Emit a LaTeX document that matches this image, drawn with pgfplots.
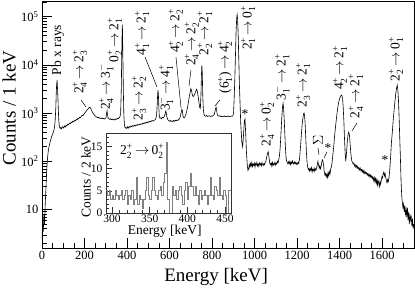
\documentclass[border=0pt]{standalone}
\usepackage{fontspec}
\setmainfont{Liberation Serif}
\usepackage{amsmath}
\usepackage{pgfplots}
\pgfplotsset{compat=1.18}
\newcommand{\lv}[3]{#1$_{\text{#2}}^{\text{#3}}$}
\newcommand{\tr}[6]{\lv{#1}{#2}{#3}\,$\rightarrow$\,\lv{#4}{#5}{#6}}
\newcommand{\annfont}{\fontsize{13.5}{15}\selectfont}

\pgfplotstableread{
E C
0 2.5
3 5
6 3.5
9 8
12 5
15 12
18 25
21 50
24 90
27 130
30 170
34 210
38 250
42 290
46 330
50 370
54 410
58 480
62 700
65 1300
67 2600
69 4000
71 4800
73 3200
75 2000
77 1100
79 700
82 520
85 480
88 500
91 470
94 510
97 520
101 490
105 540
109 510
113 560
117 540
121 590
125 570
129 620
133 600
137 650
141 630
145 680
149 660
153 700
157 690
161 740
165 720
169 780
173 760
177 820
181 800
185 860
189 900
193 880
197 950
201 1000
205 1050
209 1100
213 1180
217 1220
221 1290
225 1330
229 1250
233 1150
237 1050
241 980
245 930
249 880
253 850
257 830
261 800
265 820
269 780
273 800
277 770
281 790
285 760
289 780
293 750
297 770
301 800
304 1000
306 1120
308 950
311 780
315 760
319 740
323 760
327 730
331 750
335 720
339 740
343 720
347 760
351 740
355 780
359 770
363 800
367 850
370 1000
373 3000
375 15000
377 50000
378 68000
379 45000
381 10000
383 2500
385 900
388 560
391 490
395 500
399 480
403 520
407 490
411 530
415 510
419 540
423 520
427 550
431 530
435 560
439 540
443 570
447 555
451 580
455 565
459 590
463 575
467 600
471 590
475 620
479 600
483 630
487 615
491 650
495 630
499 660
503 645
507 680
511 660
515 690
519 700
523 680
527 710
531 720
535 760
539 900
542 1500
544 2400
546 3000
548 2200
550 1200
552 850
555 780
559 800
563 760
567 820
571 800
575 850
579 950
582 1100
584 1050
587 850
591 740
595 700
599 680
603 700
607 670
611 690
615 660
619 700
623 680
627 710
631 690
635 720
639 700
643 740
647 760
651 850
655 1050
658 1200
660 1150
662 950
665 820
669 800
673 850
677 950
681 1100
685 1350
689 1700
693 2200
697 2700
700 3200
703 3000
707 2400
711 2200
715 2300
719 2500
723 2800
727 3100
730 2900
734 2300
738 1700
742 1300
745 1250
748 2500
750 6000
752 9800
754 7000
756 2500
759 1200
762 950
766 880
770 860
774 890
778 850
782 870
786 860
790 880
794 850
798 870
802 860
806 900
810 930
814 1100
817 1250
819 1320
821 1200
823 1000
826 900
830 870
834 880
838 850
842 870
846 840
850 860
854 850
858 870
862 840
866 860
870 850
874 870
878 845
882 860
886 850
890 870
894 860
898 880
901 1000
904 2000
907 5000
910 15000
913 50000
916 95000
918 110000
920 90000
923 40000
926 12000
929 3500
935 600
940 250
944 200
948 350
952 700
955 750
958 400
962 150
966 80
969 65
972 70
975 85
978 75
981 90
984 80
987 95
990 78
993 88
996 82
999 92
1002 76
1005 90
1008 84
1011 95
1014 80
1017 88
1020 78
1023 92
1026 85
1029 90
1032 80
1035 94
1038 86
1041 82
1044 90
1047 85
1050 95
1053 100
1056 115
1059 135
1062 150
1064 158
1066 140
1069 110
1072 90
1075 85
1078 92
1081 80
1084 95
1087 82
1090 90
1093 86
1096 96
1099 84
1102 92
1105 88
1108 100
1111 94
1114 110
1117 130
1120 180
1123 300
1126 550
1129 950
1132 1400
1134 1600
1136 1350
1139 800
1142 400
1145 200
1148 120
1151 100
1154 95
1157 88
1160 98
1163 90
1166 100
1169 86
1172 96
1175 90
1178 102
1181 92
1184 88
1187 98
1190 90
1193 95
1196 86
1199 92
1202 88
1205 96
1208 90
1211 110
1214 150
1217 230
1220 350
1223 520
1226 700
1229 880
1231 980
1233 1000
1235 900
1238 600
1241 300
1244 150
1247 95
1250 75
1253 68
1256 72
1259 62
1262 70
1265 65
1268 74
1271 60
1274 68
1277 64
1280 72
1283 62
1286 70
1289 66
1292 74
1295 85
1298 100
1301 85
1304 72
1307 80
1310 70
1313 78
1316 95
1319 107
1322 100
1325 80
1328 60
1331 52
1334 56
1337 48
1340 54
1343 46
1346 58
1349 50
1352 62
1355 55
1358 70
1361 75
1364 90
1367 120
1370 160
1373 220
1376 320
1380 480
1384 700
1388 1000
1392 1350
1396 1700
1400 2000
1404 2200
1408 2350
1411 2300
1414 2000
1417 1300
1420 700
1423 300
1426 150
1429 100
1432 140
1436 250
1440 360
1443 400
1446 360
1449 250
1452 160
1455 120
1458 100
1461 95
1464 88
1467 92
1470 80
1473 86
1476 76
1479 82
1482 72
1485 78
1488 70
1491 74
1494 66
1497 72
1500 64
1503 68
1506 60
1509 66
1512 58
1515 64
1518 56
1521 60
1524 55
1527 58
1530 52
1533 56
1536 50
1539 54
1542 48
1545 52
1548 46
1551 50
1554 44
1557 48
1560 40
1563 46
1566 38
1569 44
1572 35
1575 42
1578 32
1581 40
1584 36
1587 30
1590 38
1593 33
1596 40
1599 48
1602 45
1605 55
1608 60
1611 50
1614 56
1617 46
1620 40
1623 36
1626 42
1629 38
1632 45
1635 60
1638 90
1641 150
1644 250
1648 400
1652 700
1656 1100
1660 1700
1664 2500
1668 3300
1671 3800
1674 3000
1677 1800
1680 800
1683 300
1686 120
1689 40
1692 20
1695 14
1698 11
1701 13
1704 9
1707 12
1710 8
1713 10
1716 7
1719 11
1722 6
1725 9
1728 5
1731 8
1734 6
1737 7
1740 4.5
1743 6.5
1746 4
1749 5
}\spectrum

\pgfplotstableread{
E C
292 5
294 4
296 5
298 3
300 4
302 3
304 5
306 4
308 3
310 4
312 5
314 3
316 4
318 5
320 2
322 4
324 3
326 5
328 2
330 3
332 8
334 2
336 4
338 3
340 1
342 3
344 5
346 8
348 4
350 3
352 5
354 8
356 5
358 4
360 3
362 5
364 6
366 4
368 7
370 9
372 16
374 3
376 0
378 0
380 6
382 4
384 5
386 3
388 5
390 6
392 4
394 2
396 5
398 7
400 3
402 6
404 9
406 6
408 4
410 6
412 4
414 2
416 5
418 3
420 4
422 5
424 4
426 2
428 4
430 8
432 4
434 3
436 6
438 5
440 4
442 8
444 4
446 3
448 5
450 4
452 0
454 5
456 5
458 5
}\inset

\begin{document}
\begin{tikzpicture}
\path[use as bounding box] (-42pt,-40pt) rectangle (373pt,248pt);
\begin{axis}[
  at={(0pt,0pt)}, anchor=south west,
  width=372pt, height=247pt, scale only axis,
  xmin=0, xmax=1750, ymin=1.6, ymax=2.1e5, ymode=log,
  axis line style={line width=0.8pt},
  tick align=inside, xtick pos=bottom, ytick pos=left,
  xtick={0,200,...,1600},
  minor xtick={0,50,...,1750},
  ytick={10,100,1000,10000,100000},
  yticklabels={10,10\textsuperscript{2},10\textsuperscript{3},10\textsuperscript{4},10\textsuperscript{5}},
  minor ytick={2,3,4,5,6,7,8,9,20,30,40,50,60,70,80,90,200,300,400,500,600,700,800,900,2000,3000,4000,5000,6000,7000,8000,9000,20000,30000,40000,50000,60000,70000,80000,90000,200000},
  major tick length=10pt, minor tick length=5pt,
  tick style={line width=0.6pt, black},
  ticklabel style={font=\fontsize{12.5}{14}\selectfont},
  /pgf/number format/assume math mode=true,
  /pgf/number format/1000 sep={},
  xlabel={Energy [keV]}, ylabel={Counts / 1 keV},
  label style={font=\fontsize{19}{22}\selectfont},
  xlabel style={at={(axis description cs:0.468,-0.117)}, anchor=center},
  ylabel style={at={(axis description cs:-0.088,0.567)}, anchor=center},
  clip=true,
]
\addplot[black, line width=0.6pt] table[x=E,y=C] {\spectrum};

\begin{scope}[font=\annfont]
\node[rotate=90] at (rel axis cs:0.043,0.802) {Pb x rays};
\node[rotate=90] at (rel axis cs:0.102,0.713) {\tr{2}{4}{+}{2}{3}{+}};
\node[rotate=90] at (rel axis cs:0.172,0.652) {\tr{2}{4}{+}{3}{1}{$-$}};
\node[rotate=90] at (rel axis cs:0.196,0.842) {\tr{0}{2}{+}{2}{1}{+}};
\node[rotate=90] at (rel axis cs:0.261,0.607) {\tr{2}{3}{+}{2}{2}{+}};
\node[rotate=90] at (rel axis cs:0.269,0.870) {\tr{4}{1}{+}{2}{1}{+}};
\node[rotate=90] at (rel axis cs:0.333,0.648) {\tr{3}{1}{$-$}{4}{1}{+}};
\node[rotate=90] at (rel axis cs:0.360,0.879) {\tr{4}{2}{+}{2}{2}{+}};
\node[rotate=90] at (rel axis cs:0.403,0.826) {\tr{2}{4}{+}{2}{2}{+}};
\node[rotate=90] at (rel axis cs:0.438,0.870) {\tr{2}{2}{+}{2}{1}{+}};
\node[rotate=90] at (rel axis cs:0.492,0.733) {(\lv{6}{1}{+})\,$\rightarrow$\,\lv{4}{2}{+}};
\node[rotate=90] at (rel axis cs:0.554,0.891) {\tr{2}{1}{+}{0}{1}{+}};
\node at (rel axis cs:0.546,0.543) {*};
\node[rotate=90] at (rel axis cs:0.605,0.502) {\tr{2}{4}{+}{0}{2}{+}};
\node[rotate=90] at (rel axis cs:0.645,0.692) {\tr{3}{1}{$-$}{2}{1}{+}};
\node[rotate=90] at (rel axis cs:0.702,0.660) {\tr{2}{3}{+}{2}{1}{+}};
\node[rotate=90] at (rel axis cs:0.742,0.437) {$\Sigma$};
\node at (rel axis cs:0.769,0.405) {*};
\node[rotate=90] at (rel axis cs:0.801,0.729) {\tr{4}{2}{+}{2}{1}{+}};
\node[rotate=90] at (rel axis cs:0.844,0.615) {\tr{2}{4}{+}{2}{1}{+}};
\node at (rel axis cs:0.922,0.356) {*};
\node[rotate=90] at (rel axis cs:0.952,0.765) {\tr{2}{2}{+}{0}{1}{+}};
\end{scope}
\begin{scope}[line width=0.5pt]
\draw (rel axis cs:0.1048,0.599) -- (rel axis cs:0.1183,0.571);
\draw (rel axis cs:0.2769,0.773) -- (rel axis cs:0.3091,0.652);
\draw (rel axis cs:0.3602,0.773) -- (rel axis cs:0.3737,0.567);
\draw (rel axis cs:0.4005,0.721) -- (rel axis cs:0.3952,0.656);
\draw (rel axis cs:0.4785,0.600) -- (rel axis cs:0.4651,0.575);
\draw (rel axis cs:0.7419,0.405) -- (rel axis cs:0.7446,0.377);
\draw (rel axis cs:0.7661,0.389) -- (rel axis cs:0.7581,0.364);
\draw (rel axis cs:0.8468,0.506) -- (rel axis cs:0.8333,0.474);
\end{scope}
\end{axis}

\begin{axis}[
  at={(64pt,35pt)}, anchor=south west,
  width=125pt, height=80pt, scale only axis,
  xmin=292, xmax=458, ymin=0, ymax=18,
  axis background/.style={fill=white},
  axis line style={line width=0.6pt, black!80},
  tick align=inside, xtick pos=bottom, ytick pos=left,
  xtick={300,350,400,450}, minor xtick={290,300,...,450},
  ytick={0,5,10,15}, minor ytick={0,1,...,18},
  major tick length=6pt, minor tick length=3pt,
  tick style={line width=0.5pt, black!80},
  ticklabel style={font=\fontsize{11.5}{12}\selectfont},
  xticklabel style={yshift=2pt},
  /pgf/number format/assume math mode=true,
  xlabel={Energy [keV]}, ylabel={Counts / 2 keV},
  label style={font=\fontsize{13.5}{15}\selectfont},
  xlabel style={at={(axis description cs:0.47,-0.23)}, anchor=center},
  ylabel style={at={(axis description cs:-0.16,0.45)}, anchor=center},
]
\addplot[const plot mark left, gray, line width=0.7pt] table[x=E,y=C] {\inset};
\node[font=\annfont] at (rel axis cs:0.29,0.77) {\tr{2}{2}{+}{0}{2}{+}};
\end{axis}
\end{tikzpicture}
\end{document}
